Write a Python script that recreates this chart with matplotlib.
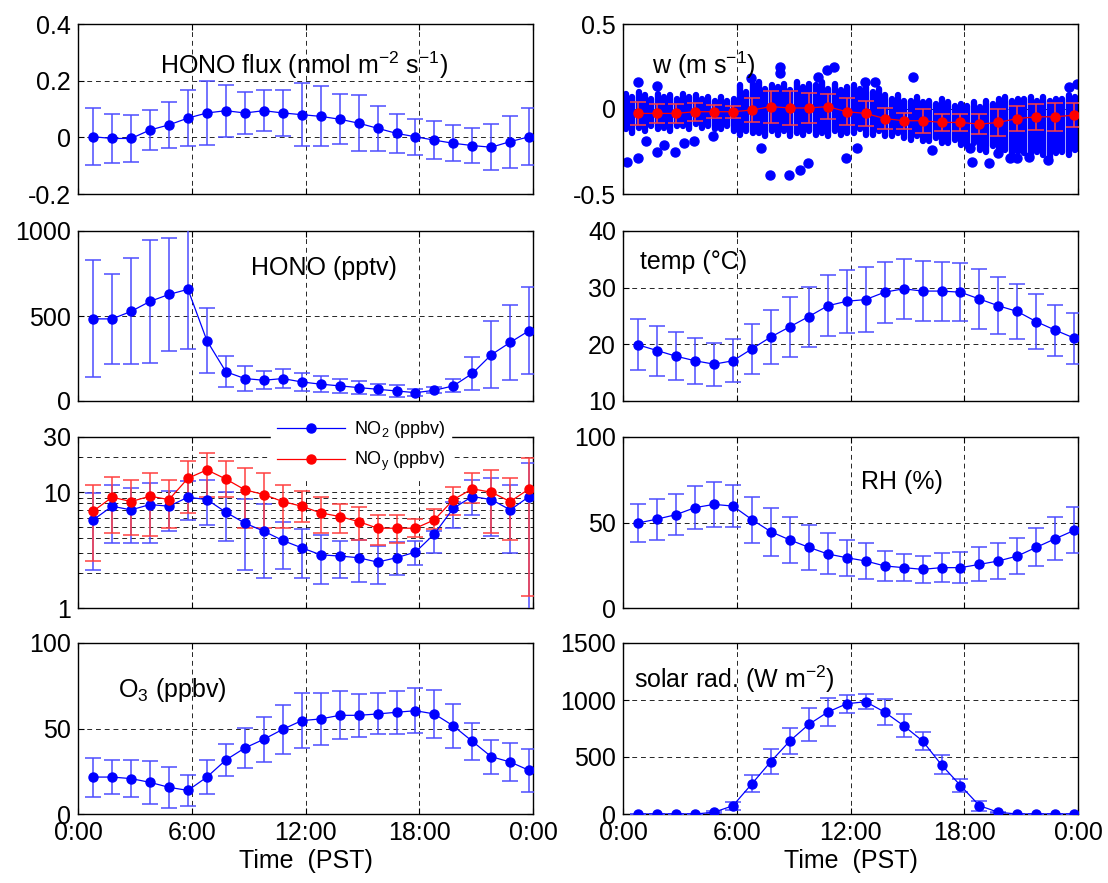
import numpy as np
import matplotlib
matplotlib.use('Agg')
import matplotlib.pyplot as plt
from matplotlib.ticker import NullFormatter, FixedLocator

plt.rcParams['font.family'] = ['Liberation Sans', 'DejaVu Sans']
plt.rcParams['mathtext.fontset'] = 'custom'
plt.rcParams['mathtext.rm'] = 'Liberation Sans'
plt.rcParams['mathtext.it'] = 'Liberation Sans:italic'
plt.rcParams['mathtext.default'] = 'regular'
plt.rcParams['axes.unicode_minus'] = False

# hour of each mean value
hours = np.arange(24) + 0.8

hono_flux = [0.002, -0.004, -0.004, 0.026, 0.044, 0.068, 0.086, 0.094, 0.086, 0.094, 0.086, 0.080,
             0.074, 0.064, 0.050, 0.032, 0.014, 0.002, -0.010, -0.021, -0.029, -0.035, -0.015, 0.002]
hono_flux_err = [0.100, 0.088, 0.082, 0.070, 0.082, 0.100, 0.113, 0.092, 0.074, 0.073, 0.082, 0.112,
                 0.106, 0.088, 0.098, 0.079, 0.070, 0.064, 0.067, 0.064, 0.062, 0.081, 0.092, 0.100]

w_mean = [-0.026, -0.026, -0.026, -0.016, -0.016, -0.016, -0.006, 0.014, 0.006, 0.006, 0.014, -0.016,
          -0.026, -0.056, -0.069, -0.069, -0.079, -0.079, -0.089, -0.079, -0.056, -0.046, -0.046, -0.036]
w_err = [0.070, 0.058, 0.057, 0.052, 0.038, 0.035, 0.068, 0.094, 0.098, 0.087, 0.073, 0.080,
         0.075, 0.062, 0.048, 0.070, 0.050, 0.048, 0.060, 0.078, 0.072, 0.075, 0.082, 0.072]

# raw w samples: dense columns (range of values per 20 min) plus isolated points
w_col_t = np.arange(72) / 3 + 1 / 6
w_top = [0.09, 0.07, 0.10, 0.08, 0.06, 0.09, 0.07, 0.08, 0.06, 0.09, 0.07, 0.08,
         0.06, 0.07, 0.05, 0.07, 0.05, 0.06, 0.14, 0.10, 0.15, 0.16, 0.12, 0.14,
         0.13, 0.15, 0.11, 0.16, 0.13, 0.15, 0.14, 0.16, 0.12, 0.15, 0.11, 0.13,
         0.14, 0.12, 0.13, 0.10, 0.12, 0.08, 0.06, 0.08, 0.05, 0.05, 0.07, 0.04,
         0.05, 0.03, 0.06, 0.04, 0.02, 0.03, 0.02, 0.04, 0.01, 0.05, 0.03, 0.06,
         0.07, 0.05, 0.06, 0.06, 0.07, 0.05, 0.07, 0.05, 0.06, 0.06, 0.08, 0.07]
w_bot = [-0.12, -0.14, -0.11, -0.13, -0.10, -0.12, -0.11, -0.13, -0.10, -0.10, -0.12, -0.09,
         -0.11, -0.10, -0.12, -0.12, -0.10, -0.13, -0.15, -0.13, -0.14, -0.14, -0.16, -0.13,
         -0.15, -0.13, -0.16, -0.14, -0.15, -0.13, -0.15, -0.14, -0.16, -0.13, -0.15, -0.14,
         -0.14, -0.12, -0.15, -0.15, -0.13, -0.16, -0.16, -0.14, -0.17, -0.18, -0.16, -0.19,
         -0.19, -0.17, -0.20, -0.20, -0.18, -0.21, -0.22, -0.20, -0.24, -0.25, -0.22, -0.26,
         -0.24, -0.27, -0.25, -0.26, -0.28, -0.25, -0.27, -0.29, -0.26, -0.25, -0.27, -0.24]
w_out_t = [0.22, 0.78, 0.78, 1.2, 1.77, 1.77, 2.18, 2.74, 3.2, 3.76, 4.75, 6.75, 7.3, 7.77, 8.3, 8.3,
           8.73, 9.35, 9.74, 10.3, 10.75, 11.15, 11.77, 12.33, 12.75, 13.3, 15.3, 16.3, 18.3, 18.4,
           19.3, 19.8, 20.4, 20.8, 21.4, 22.4, 23.5, 23.96, 23.9]
w_out = [-0.31, 0.16, -0.29, -0.19, 0.135, -0.25, -0.21, -0.25, -0.20, -0.19, -0.16, 0.18, -0.23, -0.39,
         0.25, 0.21, -0.39, -0.36, -0.32, 0.19, 0.23, 0.25, -0.29, -0.23, 0.16, 0.16, 0.19, -0.24,
         -0.23, -0.31, -0.32, -0.26, -0.29, -0.29, -0.28, -0.30, 0.13, 0.15, -0.22]

hono = [483, 483, 527, 586, 627, 657, 355, 172, 132, 122, 132, 112,
        99, 89, 79, 69, 59, 49, 63, 89, 162, 272, 345, 414]
hono_err = [344, 266, 312, 364, 333, 350, 191, 90, 71, 54, 54, 51,
            48, 41, 37, 32, 33, 22, 17, 38, 95, 196, 222, 258]

temp = [19.9, 18.9, 17.9, 17.1, 16.5, 17.1, 19.2, 21.3, 23.1, 24.9, 26.8, 27.6,
        27.9, 29.2, 29.8, 29.4, 29.4, 29.2, 28.0, 26.8, 25.8, 24.0, 22.5, 21.1]
temp_err = [4.5, 4.4, 4.2, 4.1, 3.8, 3.8, 4.4, 4.8, 5.3, 5.3, 5.4, 5.6,
            5.7, 5.4, 5.3, 5.3, 5.2, 5.1, 5.3, 5.0, 4.8, 4.9, 4.5, 4.5]

no2 = [5.77, 7.57, 7.04, 7.83, 7.57, 9.06, 8.64, 6.72, 5.41, 4.61, 3.83, 3.31,
       2.88, 2.81, 2.72, 2.49, 2.72, 3.04, 4.37, 7.28, 9.18, 8.64, 7.04, 9.18]
no2_lo = [2.11, 3.66, 3.66, 3.66, 4.58, 5.7, 5.26, 3.76, 2.11, 1.83, 2.18, 1.83,
          1.6, 1.83, 1.68, 1.6, 1.91, 2.33, 3.0, 4.93, 6.3, 4.18, 2.98, 0.9]
no2_hi = [9.9, 11.6, 10.8, 12.0, 10.3, 12.6, 12.8, 10.0, 8.8, 7.9, 5.58, 4.83,
          4.29, 3.76, 3.83, 3.4, 3.7, 3.76, 4.58, 8.2, 12.8, 13.2, 11.6, 17.9]

noy = [6.86, 9.06, 8.31, 9.24, 8.64, 13.2, 15.6, 13.0, 10.5, 9.55, 8.31, 7.57,
       6.63, 6.17, 5.58, 4.89, 4.89, 4.89, 5.77, 8.64, 10.7, 10.0, 8.31, 10.7]
noy_lo = [2.53, 4.46, 4.31, 4.18, 4.93, 6.63, 9.18, 9.18, 4.93, 4.93, 4.89, 5.5,
          4.46, 4.46, 3.83, 3.52, 3.66, 4.09, 4.83, 6.3, 8.1, 4.46, 3.9, 1.27]
noy_hi = [11.6, 13.6, 12.8, 14.6, 12.8, 18.5, 21.8, 18.5, 16.2, 14.7, 11.6, 10.3,
          9.06, 7.9, 7.4, 6.3, 6.3, 5.9, 7.1, 11.2, 14.6, 15.7, 13.3, 19.8]

rh = [49.7, 52.0, 54.6, 58.7, 60.6, 59.6, 51.7, 44.6, 39.8, 35.5, 31.6, 29.4,
      27.5, 24.6, 23.6, 22.6, 23.6, 23.6, 25.5, 27.5, 30.4, 35.5, 40.5, 45.4]
rh_err = [11, 12, 12, 12.5, 13, 12.5, 13.5, 14, 13.5, 13, 12, 10.5,
          10.6, 9, 8, 8, 8.6, 9, 10, 10.5, 10.6, 11, 12.5, 13.5]

o3 = [21.6, 21.6, 20.7, 18.5, 15.6, 13.8, 21.6, 31.6, 38.6, 43.7, 49.5, 54.6,
      55.6, 57.7, 57.7, 58.5, 59.5, 60.4, 58.5, 51.5, 42.5, 33.5, 30.4, 25.5]
o3_err = [11.4, 10, 11, 12.5, 12, 9, 10, 9.5, 11.5, 13, 14.4, 16,
          15.4, 14, 12.5, 12, 12.5, 13, 14, 13, 11, 10, 11, 12.5]

solar = [0, 0, 0, 0, 15, 73, 265, 460, 641, 786, 894, 967,
         985, 894, 775, 641, 431, 250, 73, 15, 0, 0, 0, 0]
solar_err = [0, 0, 0, 0, 8, 36, 74, 106, 114, 143, 121, 77,
             68, 112, 103, 82, 83, 61, 44, 5, 0, 0, 0, 0]

time_ticks = [0, 6, 12, 18, 24]
time_labels = ['0:00', '6:00', '12:00', '18:00', '0:00']

BLUE = (0, 0, 1)
EBLUE = (0.3, 0.3, 1)
RED = (1, 0, 0)
ERED = (1, 0.25, 0.25)
FS = 18


def series(ax, y, yerr, color=BLUE, ecolor=EBLUE, label=None):
    ax.errorbar(hours, y, yerr=yerr, fmt='none', ecolor=ecolor, elinewidth=1.1,
                capsize=6, capthick=1.1, zorder=3)
    line, = ax.plot(hours, y, '-o', color=color, ms=6.5, lw=0.9, zorder=4, label=label)
    return line


def style(ax, yticks, ylabels, ylim, bottom=False):
    ax.set_xlim(0, 24)
    ax.set_ylim(ylim)
    ax.set_xticks(time_ticks)
    ax.set_yticks(yticks, ylabels)
    ax.grid(True, which='major', color='k', ls=(0, (5, 4)), lw=0.7, alpha=0.85)
    ax.set_axisbelow(True)
    ax.tick_params(direction='in', top=True, right=True, length=4, width=0.8,
                   labelsize=FS, pad=5)
    for s in ax.spines.values():
        s.set_linewidth(1.0)
    if bottom:
        ax.set_xticklabels(time_labels)
        ax.set_xlabel('Time  (PST)', fontsize=FS, labelpad=3)
    else:
        ax.tick_params(labelbottom=False)


fig = plt.figure(figsize=(11.08, 8.83), dpi=100)
W, H = 1108.0, 883.0
cols = [78, 623]
col_w = 455
rows = [(24, 194), (231, 401), (437, 608), (643, 814)]
axes = {}
for r, (top, bot) in enumerate(rows):
    for c, x0 in enumerate(cols):
        axes[(r, c)] = fig.add_axes([x0 / W, 1 - bot / H, col_w / W, (bot - top) / H])

# HONO flux
ax = axes[(0, 0)]
series(ax, hono_flux, hono_flux_err)
style(ax, [-0.2, 0, 0.2, 0.4], ['-0.2', '0', '0.2', '0.4'], (-0.2, 0.4))
ax.text(4.35, 0.255, 'HONO flux (nmol m$^{-2}$ s$^{-1}$)', fontsize=FS, ha='left', va='center')

# w
ax = axes[(0, 1)]
vl = ax.vlines(w_col_t, w_bot, w_top, colors=[BLUE], lw=4.6, zorder=2)
vl.set_capstyle('round')
ax.plot(w_out_t, w_out, 'o', color=BLUE, ms=6.5, ls='none', zorder=2)
series(ax, w_mean, w_err, color=RED, ecolor=ERED)
style(ax, [-0.5, 0, 0.5], ['-0.5', '0', '0.5'], (-0.5, 0.5))
ax.text(1.55, 0.255, 'w (m s$^{-1}$)', fontsize=FS, ha='left', va='center')

# HONO
ax = axes[(1, 0)]
series(ax, hono, hono_err)
style(ax, [0, 500, 1000], ['0', '500', '1000'], (0, 1000))
ax.text(9.1, 780, 'HONO (pptv)', fontsize=FS, ha='left', va='center')

# temperature
ax = axes[(1, 1)]
series(ax, temp, temp_err)
style(ax, [10, 20, 30, 40], ['10', '20', '30', '40'], (10, 40))
ax.text(0.9, 34.6, 'temp (°C)', fontsize=FS, ha='left', va='center')

# NO2 / NOy on log axis
ax = axes[(2, 0)]
no2_err = [np.array(no2) - np.array(no2_lo), np.array(no2_hi) - np.array(no2)]
noy_err = [np.array(noy) - np.array(noy_lo), np.array(noy_hi) - np.array(noy)]
h1 = series(ax, no2, no2_err, label='NO$_2$ (ppbv)')
h2 = series(ax, noy, noy_err, color=RED, ecolor=ERED, label='NO$_y$ (ppbv)')
ax.set_yscale('log')
style(ax, [1, 10, 30], ['1', '10', '30'], (1, 30))
ax.yaxis.set_minor_locator(FixedLocator([2, 3, 4, 5, 6, 7, 8, 9, 20]))
ax.yaxis.set_minor_formatter(NullFormatter())
ax.tick_params(which='minor', direction='in', right=True, length=2.5, width=0.6)
ax.grid(True, which='minor', axis='y', color='k', ls=(0, (5, 4)), lw=0.7, alpha=0.85)
leg = ax.legend(handles=[h1, h2], loc='upper left', bbox_to_anchor=(0.405, 1.19),
                fontsize=13, frameon=True, fancybox=False, edgecolor='white',
                framealpha=1, handlelength=3.8, labelspacing=0.55, borderpad=0.3,
                handletextpad=0.5)
leg.set_zorder(10)

# RH
ax = axes[(2, 1)]
series(ax, rh, rh_err)
style(ax, [0, 50, 100], ['0', '50', '100'], (0, 100))
ax.text(12.55, 73.5, 'RH (%)', fontsize=FS, ha='left', va='center')

# O3
ax = axes[(3, 0)]
series(ax, o3, o3_err)
style(ax, [0, 50, 100], ['0', '50', '100'], (0, 100), bottom=True)
ax.text(2.1, 72.5, 'O$_3$ (ppbv)', fontsize=FS, ha='left', va='center')

# solar radiation
ax = axes[(3, 1)]
series(ax, solar, solar_err)
style(ax, [0, 500, 1000, 1500], ['0', '500', '1000', '1500'], (0, 1500), bottom=True)
ax.text(0.6, 1180, 'solar rad. (W m$^{-2}$)', fontsize=FS, ha='left', va='center')

fig.savefig('out.png', dpi=100)
